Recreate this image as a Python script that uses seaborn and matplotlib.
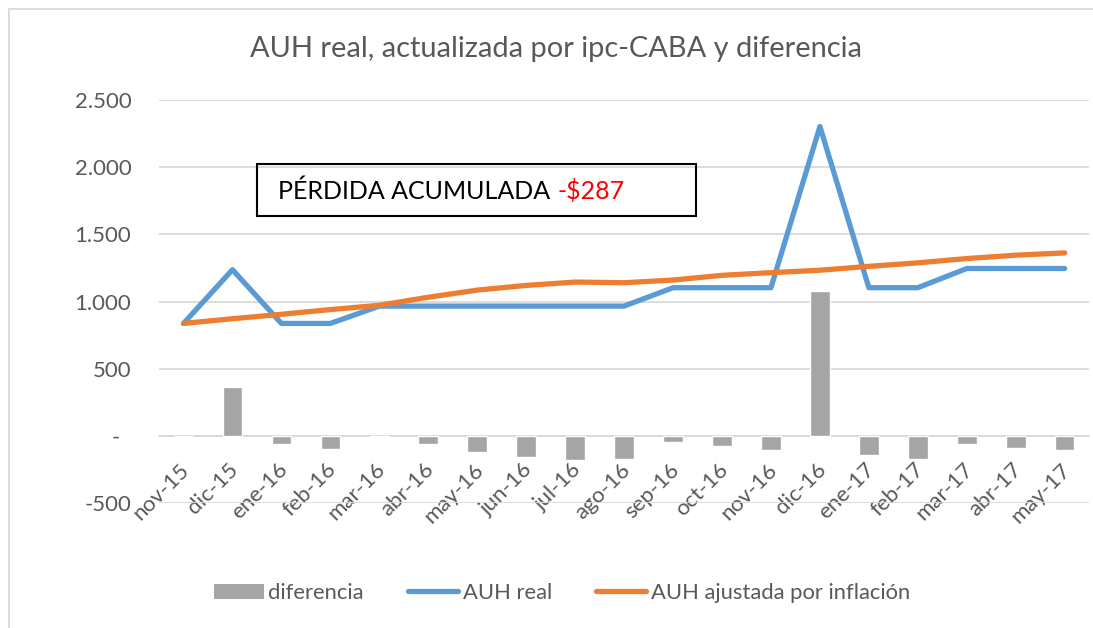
import numpy as np
import pandas as pd
import matplotlib
matplotlib.use("Agg")
import matplotlib.pyplot as plt
import matplotlib.transforms as mtransforms
from matplotlib.patches import Patch, Rectangle
from matplotlib.lines import Line2D
import seaborn as sns

# Datos
meses = ["nov-15", "dic-15", "ene-16", "feb-16", "mar-16", "abr-16", "may-16",
         "jun-16", "jul-16", "ago-16", "sep-16", "oct-16", "nov-16", "dic-16",
         "ene-17", "feb-17", "mar-17", "abr-17", "may-17"]
auh_real = [837, 1237, 837, 837, 966, 966, 966, 966, 966, 966,
            1103, 1103, 1103, 2303, 1103, 1103, 1246, 1246, 1246]
auh_ajustada = [837, 872, 905, 940, 972, 1032, 1085, 1120, 1145, 1140,
                1160, 1195, 1215, 1233, 1262, 1288, 1320, 1345, 1362]
diferencia = [0, 365, -64, -101, -5, -64, -120, -155, -180, -170,
              -46, -78, -102, 1078, -140, -170, -62, -90, -108]
y_ticks = [-500, 0, 500, 1000, 1500, 2000, 2500]
y_labels = ["-500", "-  ", "500", "1.000", "1.500", "2.000", "2.500"]

GRIS = "#A5A5A5"
AZUL = "#5B9BD5"
NARANJA = "#ED7D31"
TEXTO = "#595959"

df = pd.DataFrame({"mes": meses, "diferencia": diferencia,
                   "real": auh_real, "ajustada": auh_ajustada})

sns.set_style("white")
plt.rcParams["font.family"] = ["Lato", "DejaVu Sans"]

fig = plt.figure(figsize=(10.93, 6.28), dpi=100)
ax = fig.add_axes([0.1455, 0.199, 0.851, 0.6417])

sns.barplot(data=df, x="mes", y="diferencia", color=GRIS, saturation=1,
            width=0.4, ax=ax, zorder=2)
sns.lineplot(x=df.index, y=df["real"], color=AZUL, lw=3.8, ax=ax, zorder=3,
             solid_capstyle="round")
sns.lineplot(x=df.index, y=df["ajustada"], color=NARANJA, lw=3.8, ax=ax,
             zorder=4, solid_capstyle="round")

# eje de categorias en y=0 (antes de tocar las etiquetas)
for s in ["top", "right", "left"]:
    ax.spines[s].set_visible(False)
ax.spines["bottom"].set_position(("data", 0))
ax.spines["bottom"].set_color("#D9D9D9")
ax.spines["bottom"].set_linewidth(1.3)
ax.spines["bottom"].set_zorder(1)

ax.set_xlim(-0.5, len(meses) - 0.5)
ax.set_ylim(-500, 2500)
ax.set_yticks(y_ticks)
ax.set_yticklabels(y_labels)
ax.set_xticks(range(len(meses)))
ax.set_xticklabels(meses)
ax.set_xlabel("")
ax.set_ylabel("")
ax.grid(axis="y", color="#D9D9D9", lw=1.3, zorder=0)
ax.set_axisbelow(True)
ax.tick_params(axis="both", length=0, labelsize=16, labelcolor=TEXTO)
ax.tick_params(axis="y", pad=20)
ax.tick_params(axis="x", pad=22)
off = mtransforms.ScaledTranslation(2 / 72, 0, fig.dpi_scale_trans)
for lbl in ax.get_xticklabels():
    lbl.set_rotation(45)
    lbl.set_ha("right")
    lbl.set_va("center")
    lbl.set_rotation_mode("anchor")
    lbl.set_transform(lbl.get_transform() + off)

fig.text(0.509, 0.922, "AUH real, actualizada por ipc-CABA y diferencia",
         ha="center", va="center", fontsize=20.9, color=TEXTO)

# Cuadro de texto
fig.patches.append(Rectangle((257 / 1093, 1 - 216 / 628), 439 / 1093, 52 / 628,
                             transform=fig.transFigure, fill=False,
                             edgecolor="black", lw=1.5))
t1 = fig.text(278 / 1093, 1 - 191 / 628, "PÉRDIDA ACUMULADA", ha="left",
              va="center", fontsize=18, color="black")
fig.canvas.draw()
bb = t1.get_window_extent(renderer=fig.canvas.get_renderer())
fig.text((bb.x1 + 7) / fig.bbox.width, 1 - 191 / 628, "-$287", ha="left",
         va="center", fontsize=18, color="#FF0000")

# Borde del area del grafico
fig.patches.append(Rectangle((9 / 1093, -0.1), 1.2, 1 - 9 / 628 + 0.1,
                             transform=fig.transFigure, fill=False,
                             edgecolor="#D9D9D9", lw=1.3))

handles = [Patch(facecolor=GRIS, edgecolor="none"),
           Line2D([0], [0], color=AZUL, lw=3.8),
           Line2D([0], [0], color=NARANJA, lw=3.8)]
fig.legend(handles, ["diferencia", "AUH real", "AUH ajustada por inflación"],
           loc="center", bbox_to_anchor=(0.514, 1 - 593 / 628), ncol=3,
           frameon=False, fontsize=15.8, labelcolor=TEXTO, handlelength=2.3,
           handleheight=0.7, handletextpad=0.2, columnspacing=2.0)

fig.savefig("out.png", dpi=100)
